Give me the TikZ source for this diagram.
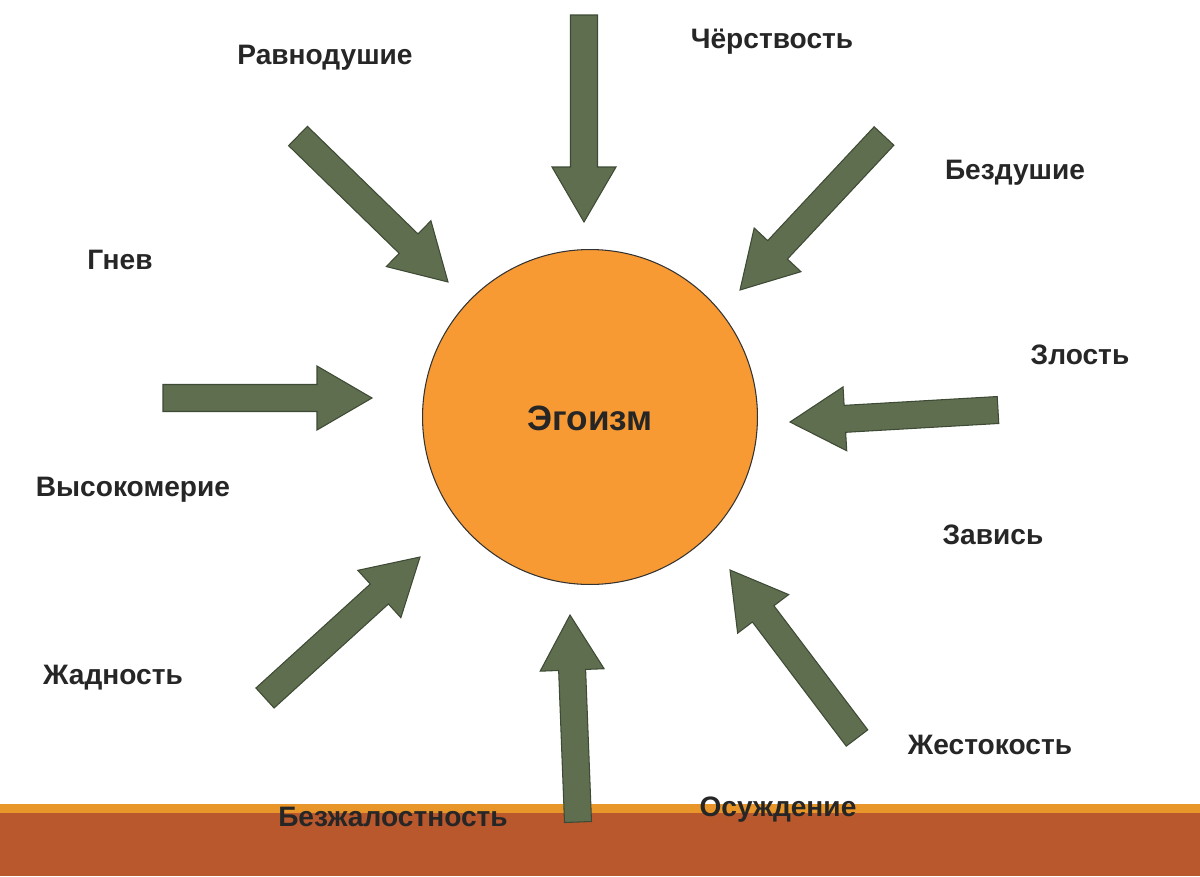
\documentclass[tikz,border=0pt]{standalone}
\usepackage{fontspec}
\setmainfont{Liberation Sans}
\usetikzlibrary{calc}
\definecolor{arrfill}{HTML}{5F6E4F}
\definecolor{arrline}{HTML}{3E4A35}
\definecolor{sun}{HTML}{F89A33}
\definecolor{band}{HTML}{B9582D}
\definecolor{bandtop}{HTML}{E8962A}
\tikzset{
  arr/.style={fill=arrfill,draw=arrline,line width=0.6pt,line join=miter},
  lbl/.style={font=\bfseries\fontsize{16}{18}\selectfont,text=black!85},
}
\newcommand{\blockarrow}[2]{%
  \coordinate (A) at #1; \coordinate (B) at #2;
  \coordinate (H) at ($(B)!1.1cm!(A)$);
  \draw[arr] ($(A)!0.27cm!90:(B)$) -- ($(H)!0.27cm!-90:(A)$) -- ($(H)!0.64cm!-90:(A)$) -- (B)
    -- ($(H)!0.64cm!90:(A)$) -- ($(H)!0.27cm!90:(A)$) -- ($(A)!0.27cm!-90:(B)$) -- cycle;}
\begin{document}
\begin{tikzpicture}[x=0.02cm,y=-0.02cm]
\useasboundingbox (0,0) rectangle (1200,876);
\fill[white] (0,0) rectangle (1200,876);
\fill[bandtop] (0,804) rectangle (1200,813);
\fill[band] (0,813) rectangle (1200,876);
\node[circle,draw=black!80,line width=0.6pt,fill=sun,minimum size=6.7cm] (ego) at (590,417) {};
\node[font=\bfseries\fontsize{20}{22}\selectfont,text=black!85] (egot) at (590,418) {Эгоизм};
\blockarrow{(584,15)}{(584,222)}
\blockarrow{(298,136)}{(448,282)}
\blockarrow{(884,136)}{(740,290)}
\blockarrow{(163,398)}{(372,398)}
\blockarrow{(998,410)}{(790,422)}
\blockarrow{(265,698)}{(420,557)}
\blockarrow{(578,822)}{(570,615)}
\blockarrow{(857,738)}{(730,570)}
\node[lbl] (l1) at (325,58) {Равнодушие};
\node[lbl] (l2) at (772,42) {Чёрствость};
\node[lbl] (l3) at (1015,173) {Бездушие};
\node[lbl] (l4) at (120,260) {Гнев};
\node[lbl] (l5) at (1080,355) {Злость};
\node[lbl] (l6) at (133,490) {Высокомерие};
\node[lbl] (l7) at (993,535) {Завись};
\node[lbl] (l8) at (113,678) {Жадность};
\node[lbl] (l9) at (990,745) {Жестокость};
\node[lbl] (l10) at (393,817) {Безжалостность};
\node[lbl] (l11) at (778,810) {Осуждение};
\end{tikzpicture}
\end{document}
